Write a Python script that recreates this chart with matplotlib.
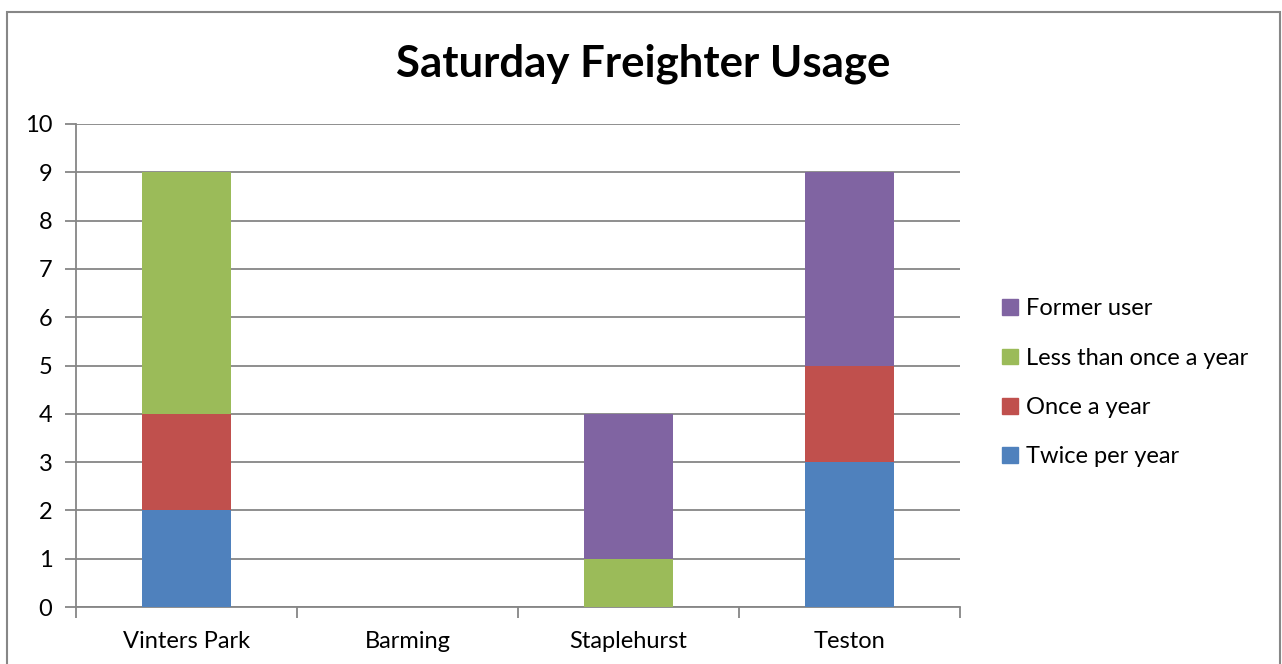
import numpy as np
import matplotlib
matplotlib.use("Agg")
import matplotlib.pyplot as plt
from matplotlib.patches import Rectangle

plt.rcParams["font.family"] = ["Lato", "DejaVu Sans"]

sites = ["Vinters Park", "Barming", "Staplehurst", "Teston"]
twice_per_year = [2, 0, 0, 3]
once_a_year = [2, 0, 0, 2]
less_than_once = [5, 0, 1, 0]
former_user = [0, 0, 3, 4]

series = [
    ("Twice per year", twice_per_year, "#4F81BD"),
    ("Once a year", once_a_year, "#C0504D"),
    ("Less than once a year", less_than_once, "#9BBB59"),
    ("Former user", former_user, "#8064A2"),
]

W, H = 1282, 664
fig = plt.figure(figsize=(W / 100, H / 100), dpi=100)
ax = fig.add_axes([76 / W, 1 - 607 / H, (960 - 76) / W, (607 - 124) / H])

# chart area frame
fig.add_artist(Rectangle((7 / W, -0.05), (1280 - 7) / W, 1.05 - 11.5 / H,
                         transform=fig.transFigure, fill=False,
                         edgecolor="#878787", linewidth=1.5))

x = np.arange(len(sites))
bottom = np.zeros(len(sites))
for name, vals, color in series:
    vals = np.array(vals, dtype=float)
    ax.bar(x, vals, width=0.4, bottom=bottom, color=color, zorder=3, label=name)
    bottom += vals

ax.set_xlim(-0.5, len(sites) - 0.5)
ax.set_ylim(0, 10)
ax.set_yticks(range(0, 11))
ax.yaxis.grid(True, color="#868686", linewidth=1.3, zorder=0)
ax.set_axisbelow(True)

for s in ["top", "right"]:
    ax.spines[s].set_visible(False)
for s in ["left", "bottom"]:
    ax.spines[s].set_color("#868686")
    ax.spines[s].set_linewidth(1.3)

ax.set_xticks(x)
ax.set_xticklabels(sites, fontsize=17)
ax.tick_params(axis="x", length=0, pad=17)
ax.set_xticks(np.arange(-0.5, len(sites)), minor=True)
ax.tick_params(axis="x", which="minor", length=8, width=1.3, color="#868686")
ax.tick_params(axis="y", length=8, width=1.3, color="#868686", labelsize=17, pad=9)

fig.text(0.502, 1 - 64 / H, "Saturday Freighter Usage", ha="center", va="center",
         fontsize=31.5, fontweight="bold")

leg_handles = [Rectangle((0, 0), 1, 1, color=c) for _, _, c in series][::-1]
leg_labels = [n for n, _, _ in series][::-1]
fig.legend(leg_handles, leg_labels, loc="center left",
           bbox_to_anchor=(981 / W, 1 - 383 / H), frameon=False, fontsize=17,
           handlelength=0.65, handleheight=0.65, handletextpad=0.35, labelspacing=1.2)

fig.savefig("out.png", dpi=100)
